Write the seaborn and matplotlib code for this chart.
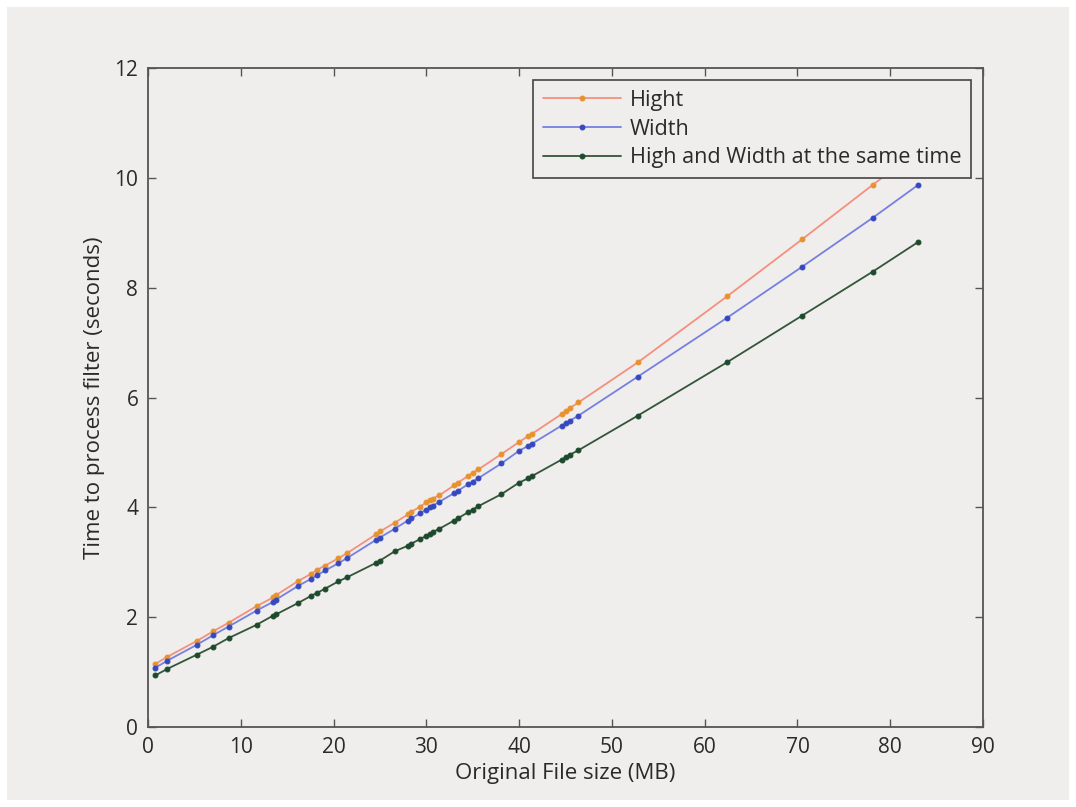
import matplotlib
matplotlib.use("Agg")
import matplotlib.pyplot as plt
from matplotlib.patches import Rectangle
import seaborn as sns
import pandas as pd

# ---------------- data ----------------
file_size_mb = [0.8, 2.1, 5.3, 7.0, 8.7, 11.7, 13.5, 13.8, 16.2, 17.6, 18.2, 19.1, 20.5, 21.5,
                24.6, 25.0, 26.6, 28.0, 28.4, 29.3, 30.0, 30.4, 30.7, 31.4, 33.0, 33.4, 34.5,
                35.0, 35.6, 38.1, 40.0, 41.0, 41.4, 44.6, 45.1, 45.5, 46.4, 52.8, 62.4, 70.5,
                78.1, 83.0]

hight_time = [1.15, 1.28, 1.57, 1.74, 1.90, 2.20, 2.36, 2.40, 2.66, 2.79, 2.86, 2.94, 3.07, 3.17,
              3.51, 3.56, 3.72, 3.87, 3.92, 4.01, 4.09, 4.13, 4.16, 4.22, 4.40, 4.45, 4.57,
              4.63, 4.69, 4.97, 5.19, 5.30, 5.34, 5.70, 5.76, 5.81, 5.91, 6.64, 7.84, 8.88,
              9.87, 10.50]

width_time = [1.08, 1.21, 1.50, 1.67, 1.83, 2.12, 2.28, 2.32, 2.57, 2.70, 2.76, 2.85, 2.98, 3.08,
              3.41, 3.45, 3.61, 3.76, 3.80, 3.89, 3.96, 4.00, 4.03, 4.10, 4.26, 4.30, 4.42,
              4.47, 4.53, 4.80, 5.03, 5.12, 5.16, 5.49, 5.54, 5.58, 5.67, 6.38, 7.45, 8.38,
              9.27, 9.87]

both_time = [0.94, 1.06, 1.32, 1.46, 1.62, 1.86, 2.03, 2.05, 2.26, 2.39, 2.44, 2.52, 2.65, 2.73,
             2.99, 3.03, 3.20, 3.30, 3.34, 3.42, 3.48, 3.52, 3.55, 3.61, 3.76, 3.80, 3.91,
             3.96, 4.02, 4.24, 4.45, 4.53, 4.57, 4.87, 4.92, 4.96, 5.04, 5.67, 6.64, 7.49,
             8.29, 8.83]

series_labels = ["Hight", "Width", "High and Width at the same time"]
x_ticks = [0, 10, 20, 30, 40, 50, 60, 70, 80, 90]
y_ticks = [0, 2, 4, 6, 8, 10, 12]

# ---------------- style ----------------
BG = "#efeeec"
TXT = "#2a2a2a"
FS = 15
sns.set_style("ticks")
plt.rcParams["font.family"] = ["Open Sans", "DejaVu Sans"]

fig = plt.figure(figsize=(10.76, 8.07), dpi=100, facecolor="white")
fig.patches.append(Rectangle((7 / 1076, 7 / 807), 1062 / 1076, 793 / 807,
                             transform=fig.transFigure, facecolor=BG, edgecolor="none",
                             zorder=-10))
ax = fig.add_axes([148 / 1076, 1 - 727 / 807, (983 - 148) / 1076, (727 - 68) / 807])
ax.set_facecolor(BG)

df = pd.DataFrame({"size": file_size_mb, "h": hight_time, "w": width_time, "b": both_time})

styles = [
    ("h", "#f5907c", "#e8922e"),
    ("w", "#7580e0", "#3648bf"),
    ("b", "#33553a", "#1d4a2c"),
]
for (col, lc, mc), lab in zip(styles, series_labels):
    sns.lineplot(data=df, x="size", y=col, ax=ax, color=lc, linewidth=1.3, marker="o",
                 markersize=3.5, markerfacecolor=mc, markeredgecolor=mc, label=lab,
                 sort=False)

ax.set_xlim(0, 90)
ax.set_ylim(0, 12)
ax.set_xticks(x_ticks)
ax.set_yticks(y_ticks)
ax.tick_params(direction="in", top=True, right=True, length=6, width=1.0,
               color="#555555", labelsize=FS, labelcolor=TXT, pad=7)
for s in ax.spines.values():
    s.set_color("#555555")
    s.set_linewidth(1.3)
    s.set_visible(True)

ax.set_xlabel("Original File size (MB)", fontsize=16, color=TXT, labelpad=4)
ax.set_ylabel("Time to process filter (seconds)", fontsize=16, color=TXT, labelpad=7)

leg = ax.legend(loc="upper right", bbox_to_anchor=(971 / 1076, 1 - 80 / 807),
                bbox_transform=fig.transFigure, frameon=True, fancybox=False,
                fontsize=15.6, borderpad=0.45, labelspacing=0.36, handlelength=3.6,
                handletextpad=0.4, borderaxespad=0)
leg.get_frame().set_facecolor(BG)
leg.get_frame().set_edgecolor("#444444")
leg.get_frame().set_linewidth(1.2)
leg.get_frame().set_alpha(1.0)
for t in leg.get_texts():
    t.set_color(TXT)

fig.savefig("out.png", dpi=100, facecolor="white")
